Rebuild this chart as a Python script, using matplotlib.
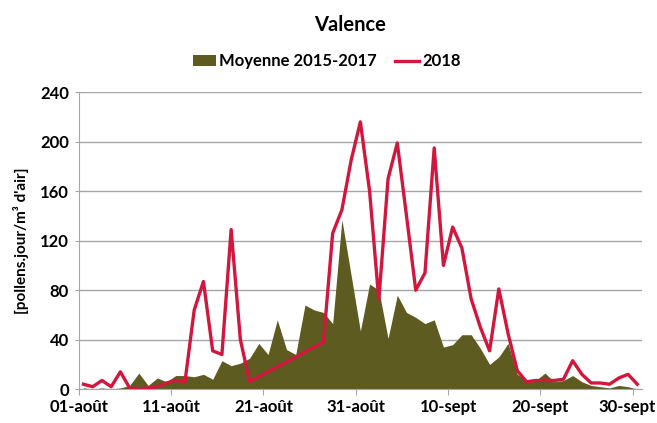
from matplotlib import pyplot as plt
from matplotlib.patches import Patch
from matplotlib.lines import Line2D
from matplotlib.transforms import ScaledTranslation
import numpy as np

plt.rcParams['font.family'] = ['Lato', 'DejaVu Sans']
plt.rcParams['font.weight'] = 'bold'

# daily values, 01-août -> 30-sept
moyenne = [1, 0, 1, 0, 1, 3, 13, 3, 9, 6,
           11, 11, 10, 12, 8, 23, 19, 21, 25, 37,
           28, 56, 32, 28, 68, 64, 62, 53, 137, 92,
           47, 85, 80, 41, 76, 62, 58, 53, 56, 34,
           36, 44, 44, 33, 20, 26, 37, 12, 7, 7,
           13, 6, 7, 11, 6, 3, 2, 1, 3, 2, 0]
an2018 = [4, 2, 7, 2, 14, 1, 0, 1, 2, 5,
          7, 6, 64, 87, 31, 28, 129, 40, 6, 10,
          14, 18, 22, 26, 30, 34, 38, 126, 145, 185,
          216, 160, 72, 170, 199, 140, 80, 94, 195, 100,
          131, 114, 73, 50, 31, 81, 45, 15, 6, 7,
          7, 7, 8, 23, 12, 5, 5, 4, 9, 12, 4]

tick_labels = ['01-août', '11-août', '21-août', '31-août', '10-sept', '20-sept', '30-sept']

olive = '#5E5B20'
red = '#D2173F'

x = np.arange(len(moyenne)) + 0.5

fig = plt.figure(figsize=(6.57, 4.23), dpi=100)
ax = fig.add_axes([0.120, 0.080, 0.857, 0.702])

ax.fill_between(x, 0, moyenne, color=olive, linewidth=0, zorder=2)
ax.plot(x, an2018, color=red, linewidth=2.4, zorder=3)

ax.set_xlim(0, 61)
ax.set_ylim(0, 240)
ax.set_yticks(np.arange(0, 241, 40))
ax.set_xticks(np.arange(0, 61, 10))
ax.set_xticklabels(tick_labels)
ax.grid(axis='y', color='#A6A6A6', linewidth=1)
ax.set_axisbelow(True)

for s in ['top', 'right']:
    ax.spines[s].set_visible(False)
ax.spines['left'].set_color('#A6A6A6')
ax.spines['bottom'].set_color('#A6A6A6')
ax.tick_params(axis='y', length=3, color='#A6A6A6', labelsize=12, pad=4)
ax.tick_params(axis='x', length=4, color='#A6A6A6', labelsize=12, pad=3)

# keep the last label inside the figure
last = ax.get_xticklabels()[-1]
last.set_transform(last.get_transform() + ScaledTranslation(-4 / 72, 0, fig.dpi_scale_trans))

ax.set_ylabel("[pollens.jour/m³ d'air]", fontsize=11, fontweight='bold', labelpad=8)

fig.text(0.533, 0.94, 'Valence', ha='center', va='center', fontsize=14.5, fontweight='bold')

handles = [Patch(facecolor=olive, edgecolor='none'),
           Line2D([0], [0], color=red, linewidth=2.4)]
fig.legend(handles, ['Moyenne 2015-2017', '2018'], loc='center', bbox_to_anchor=(0.497, 0.855),
           ncol=2, frameon=False, fontsize=12, handlelength=1.4, handletextpad=0.2,
           columnspacing=1.1)

fig.savefig('out.png', dpi=100)
